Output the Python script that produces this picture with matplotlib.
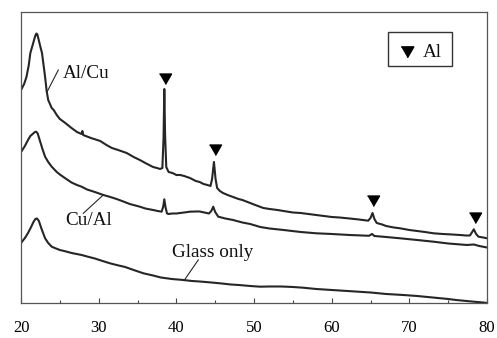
import matplotlib
matplotlib.use("Agg")
import matplotlib.pyplot as plt
from matplotlib.ticker import MultipleLocator
from matplotlib.patches import Rectangle

plt.rcParams['font.family'] = ['Liberation Serif', 'DejaVu Serif']

# Al/Cu pattern (2theta, intensity a.u.)
alcu_x = [20.0, 20.4, 20.7, 21.0, 21.2, 21.5, 21.75, 21.9, 22.0, 22.1, 22.25, 22.5, 22.7, 23.1, 23.3, 23.5,
          23.95, 24.2, 24.6, 25.0, 25.7, 26.5, 27.2, 27.8, 27.9, 28.0, 29.0, 30.2, 31.0, 31.7,
          32.5, 33.6, 34.5, 35.3, 36.0, 36.5, 37.0, 37.5, 37.9, 38.2, 38.35, 38.45, 38.55, 38.7,
          39.0, 39.5, 40.0, 40.5, 41.0, 41.75, 42.5, 43.0, 43.5, 44.0, 44.4, 44.6, 44.84, 45.05,
          45.25, 45.6, 46.0, 46.6, 47.3, 48.0, 48.5, 49.5, 50.5, 51.2, 52.0, 53.0, 53.8, 55.0,
          56.0, 57.0, 58.0, 59.0, 60.0, 61.0, 62.3, 63.5, 64.7, 65.0, 65.26, 65.5, 65.8, 66.5,
          67.0, 68.0, 68.8, 70.0, 71.0, 72.0, 73.1, 74.3, 75.5, 76.5, 77.3, 77.8, 78.05, 78.3,
          78.6, 78.9, 79.5, 80.0]
alcu_y = [213, 219, 226, 238, 250, 258, 265, 268.5, 269.5, 268.5, 264, 256, 250, 226, 212, 203,
          195, 193, 188, 184, 180, 175, 171, 169, 172, 168, 165, 162, 158, 155,
          153, 150, 146, 143, 140, 138, 136, 135, 134, 135, 165, 214, 168, 136,
          131, 130, 128, 128, 127, 125, 122, 121, 119, 118, 117, 124, 141, 124,
          115, 112, 110, 108, 106, 104, 103, 100, 97, 95, 94, 93, 92, 90.5,
          90, 89, 88, 87, 86, 85.5, 84.5, 83.5, 82.3, 85, 90, 84, 80, 78.5,
          77, 75.5, 74.7, 73, 72, 71, 69.7, 69, 68.5, 68, 67.5, 67.5, 70.5, 73.7,
          69, 66.3, 65.5, 64.7]

# Cu/Al pattern
cual_x = [20.0, 20.5, 20.9, 21.2, 21.5, 21.75, 21.95, 22.15, 22.4, 22.8, 23.1, 23.5, 23.95, 24.6, 25.0,
          25.7, 26.5, 27.2, 27.8, 28.5, 29.5, 30.6, 31.5, 32.3, 33.0, 34.0, 35.3, 36.0, 37.0,
          37.6, 38.1, 38.3, 38.45, 38.6, 38.8, 39.0, 39.5, 40.0, 41.0, 41.75, 42.5, 43.0, 43.6,
          44.2, 44.5, 44.75, 45.0, 45.4, 46.3, 47.3, 48.5, 49.5, 50.8, 52.0, 53.8, 56.0, 58.0,
          60.0, 62.3, 64.8, 65.2, 65.5, 67.0, 68.8, 71.0, 73.1, 75.0, 77.4, 78.3, 79.0, 80.0]
cual_y = [151, 157, 163, 167, 169, 170.8, 171.3, 169.5, 163, 153, 146.3, 141, 136.3, 131, 128.5,
          124.7, 120.5, 118, 116.3, 113.5, 111, 108, 106, 104, 102, 99, 96.3, 94.5, 93,
          92, 91.3, 96, 103.7, 96, 89.5, 89, 89.5, 89.5, 90.5, 91.3, 91.5, 91.5, 90.5,
          89.5, 92, 96.3, 91, 86.3, 84.5, 83, 80.5, 79, 76, 74.5, 73, 71, 69.7,
          69, 68, 67.2, 69, 67, 66, 64.7, 63, 61.3, 59.5, 58, 58.5, 57, 55.5]

# Glass only pattern
glass_x = [20.0, 20.5, 20.9, 21.3, 21.6, 21.85, 22.05, 22.3, 22.6, 23.1, 23.5, 23.95, 24.5, 25.0, 25.8,
           26.5, 27.8, 28.5, 29.5, 30.5, 31.45, 32.3, 33.4, 34.5, 35.75, 37.0, 38.0, 39.4, 40.9,
           42.0, 43.0, 44.5, 45.6, 47.0, 48.0, 49.5, 50.8, 52.0, 53.5, 55.0, 56.3, 58.0, 60.0,
           62.0, 65.0, 67.0, 69.2, 71.0, 73.0, 75.0, 76.0, 78.0, 79.5, 80.0]
glass_y = [60, 65, 70, 76, 81, 84, 84.5, 82, 75, 64.7, 60, 56.3, 54.5, 53, 51.5,
           50, 48, 46.5, 44.5, 42, 39.7, 38, 36, 33, 29.7, 27.5, 25.5, 24, 23,
           22, 21.5, 20.5, 19.7, 18.5, 18, 17, 16.3, 16.5, 16.5, 16, 15.3, 14, 13,
           12, 10.5, 9, 8, 7, 5.5, 4, 3, 1.5, 0.5, 0]

# Al peak markers
peak_x = [38.5, 44.95, 65.35, 78.4]
peak_y = [226, 154.5, 104, 86.5]

xticks = [20, 30, 40, 50, 60, 70, 80]

fig = plt.figure(figsize=(4.97, 3.38), dpi=100)
ax = fig.add_axes([0.0423, 0.1027, 0.9376, 0.8627])

lc = '#262626'
ax.plot(alcu_x, alcu_y, color=lc, lw=1.5)
ax.plot(cual_x, cual_y, color=lc, lw=1.5)
ax.plot(glass_x, glass_y, color=lc, lw=1.5)

tri = [(-1, 0.577), (1, 0.577), (0, -1.155)]
ax.plot(peak_x, peak_y, linestyle='none', marker=tri, markersize=10,
        color='black')

ax.set_xlim(20, 80)
ax.set_ylim(-0.3, 291.3)
ax.set_xticks(xticks)
ax.set_xticklabels([str(t) for t in xticks])
ax.xaxis.set_minor_locator(MultipleLocator(5))
ax.tick_params(axis='x', which='major', direction='in', length=3.3, width=0.8,
               color='#444444', labelsize=12, pad=12)
ax.tick_params(axis='x', which='minor', direction='in', length=2.3, width=0.8,
               color='#444444')
ax.set_yticks([])
for s in ax.spines.values():
    s.set_color('#555555')
    s.set_linewidth(0.9)

fs = 13.8
ax.text(25.44, 224.7, 'Al/Cu', fontsize=fs, ha='left', va='baseline', color='#111111')
ax.plot([24.8, 23.31], [233, 210.5], color=lc, lw=0.8)
ax.text(25.66, 78, 'Cu/Al', fontsize=fs, ha='left', va='baseline', color='#111111')
ax.plot([28.02, 30.59], [89.7, 108], color=lc, lw=0.8)
ax.text(39.4, 46.3, 'Glass only', fontsize=fs, ha='left', va='baseline', color='#111111')
ax.plot([42.82, 40.98], [43, 22.3], color=lc, lw=0.8)

# legend box
ax.add_patch(Rectangle((0.788, 0.815), 0.136, 0.116, transform=ax.transAxes,
                       fill=False, edgecolor='#333333', lw=1.0))
ax.plot([0.828], [0.869], transform=ax.transAxes, marker=tri, markersize=10.5,
        color='black', linestyle='none')
ax.text(0.863, 0.846, 'Al', transform=ax.transAxes, fontsize=fs, ha='left',
        va='baseline', color='#111111')

fig.savefig('out.png', dpi=100)
